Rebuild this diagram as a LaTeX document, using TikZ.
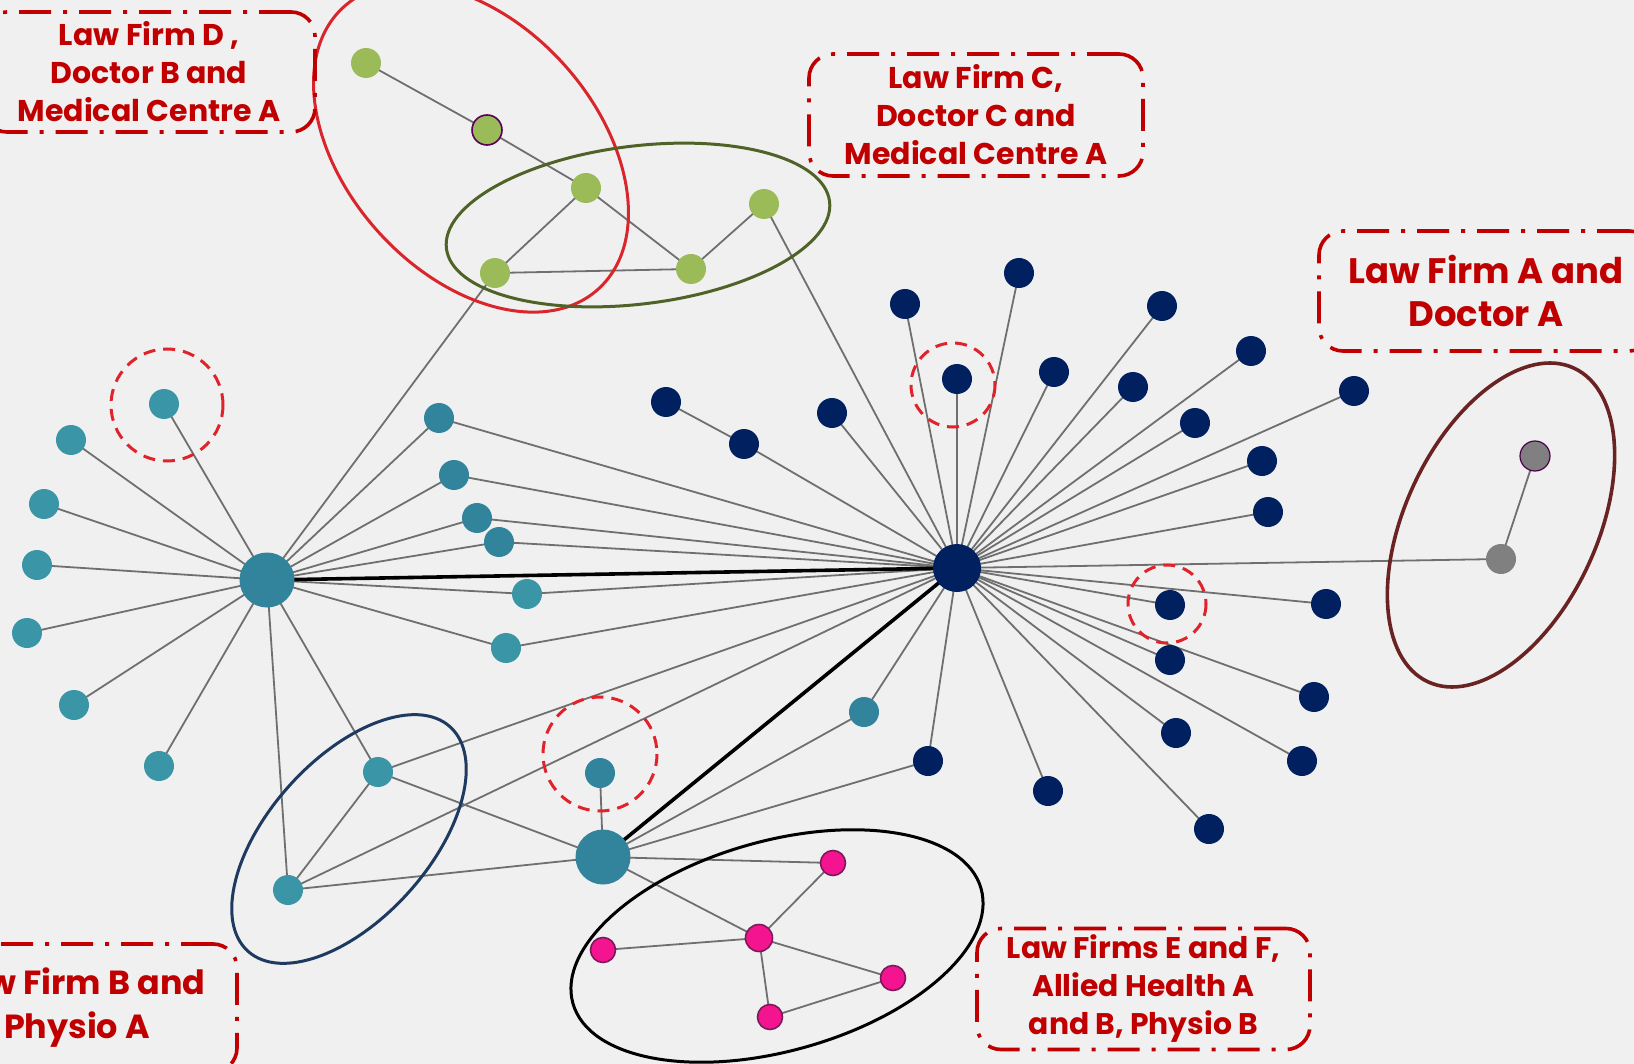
\documentclass[tikz,border=0pt]{standalone}
\usepackage{fontspec}
\newfontfamily\labfont{Poppins}
\definecolor{bg}{HTML}{F0F0F0}
\definecolor{tealA}{HTML}{31849B}
\definecolor{tealB}{HTML}{3A95A7}
\definecolor{navy}{HTML}{002060}
\definecolor{leaf}{HTML}{9BBB59}
\definecolor{rose}{HTML}{F5148F}
\definecolor{roseline}{HTML}{7A1A5A}
\definecolor{greynode}{HTML}{808080}
\definecolor{edgecol}{HTML}{6F6F6F}
\definecolor{labred}{HTML}{C00000}
\definecolor{ringred}{HTML}{E0222B}
\definecolor{ellred}{HTML}{D9252B}
\definecolor{ellgreen}{HTML}{4F6228}
\definecolor{ellmaroon}{HTML}{6A2222}
\definecolor{ellblue}{HTML}{1F3A60}
\pgfdeclarelayer{edges}
\pgfsetlayers{edges,main}
\tikzset{
  dot/.style={circle, inner sep=0pt, minimum size=15pt},
  tsat/.style={dot, fill=tealB},
  tdark/.style={dot, fill=tealA},
  thub/.style={circle, inner sep=0pt, minimum size=27.5pt, fill=tealA},
  nsat/.style={dot, fill=navy},
  nhub/.style={circle, inner sep=0pt, minimum size=24pt, fill=navy},
  gsat/.style={dot, fill=leaf},
  gysat/.style={dot, fill=greynode},
  psat/.style={circle, inner sep=0pt, minimum size=12.5pt, fill=rose, draw=roseline, line width=0.8pt},
  link/.style={draw=edgecol, line width=0.9pt},
  strong/.style={draw=black, line width=1.8pt},
  ring/.style={draw=ringred, line width=1.5pt, dash pattern=on 6pt off 4pt},
  labelbox/.style={draw=labred, line width=1.8pt, rounded corners=12pt,
    dash pattern=on 16pt off 6pt on 2pt off 6pt, text=labred,
    align=center, inner sep=0pt},
  labsize/.style 2 args={font=\labfont\bfseries\fontsize{#1}{#2}\selectfont},
}
\begin{document}
\begin{tikzpicture}[x=0.5pt, y=-0.5pt]
\useasboundingbox (0,0) rectangle (1634,1064);
\clip (0,0) rectangle (1634,1064);
\begin{pgfonlayer}{edges}
\fill[bg] (0,0) rectangle (1634,1064);
\end{pgfonlayer}

% teal nodes
\node[thub] (TL) at (267,580) {};
\node[tsat] (t1) at (164,404) {};
\node[tsat] (t2) at (71,440) {};
\node[tsat] (t3) at (44,504) {};
\node[tsat] (t4) at (37,565) {};
\node[tsat] (t5) at (27,633) {};
\node[tsat] (t6) at (74,705) {};
\node[tsat] (t7) at (159,766) {};
\node[tdark] (t8) at (439,418) {};
\node[tdark] (t9) at (454,475) {};
\node[tdark] (t10) at (477,518) {};
\node[tdark] (t11) at (499,542) {};
\node[tsat] (t12) at (527,594) {};
\node[tsat] (t13) at (506,648) {};
\node[tsat] (TM) at (378,772) {};
\node[tsat] (TB) at (288,890) {};
\node[thub] (TH) at (603,857) {};
\node[tdark] (tc) at (600,773) {};
\node[tdark] (tr) at (864,712) {};

% green nodes
\node[gsat] (g1) at (366,63) {};
\node[gsat, draw=violet!70!black, line width=0.8pt] (g2) at (487,130) {};
\node[gsat] (g3) at (586,188) {};
\node[gsat] (g4) at (764,204) {};
\node[gsat] (g5) at (495,273) {};
\node[gsat] (g6) at (691,269) {};

% navy nodes
\node[nhub] (NH) at (957,568) {};
\node[nsat] (na) at (666,402) {};
\node[nsat] (nb) at (744,444) {};
\node[nsat] (nc) at (832,413) {};
\node[nsat] (nd) at (905,304) {};
\node[nsat] (ne) at (957,379) {};
\node[nsat] (nf) at (1019,273) {};
\node[nsat] (ng) at (1054,372) {};
\node[nsat] (nh) at (1162,306) {};
\node[nsat] (ni) at (1133,387) {};
\node[nsat] (nj) at (1251,351) {};
\node[nsat] (nk) at (1195,423) {};
\node[nsat] (nl) at (1262,461) {};
\node[nsat] (nm) at (1268,512) {};
\node[nsat] (nn) at (1354,391) {};
\node[nsat] (no) at (1170,605) {};
\node[nsat] (np) at (1326,604) {};
\node[nsat] (nq) at (1170,660) {};
\node[nsat] (nr) at (1314,697) {};
\node[nsat] (ns) at (1176,733) {};
\node[nsat] (nt) at (1302,761) {};
\node[nsat] (nu) at (1048,791) {};
\node[nsat] (nv) at (1209,829) {};
\node[nsat] (nw) at (928,761) {};

% grey nodes
\node[gysat, draw=violet!60!black, line width=0.6pt] (gr1) at (1535,456) {};
\node[gysat] (gr2) at (1501,559) {};

% pink nodes
\node[psat] (p1) at (833,863) {};
\node[psat, minimum size=13.5pt] (pc) at (759,938) {};
\node[psat] (pl) at (603,950) {};
\node[psat] (pr) at (893,978) {};
\node[psat] (pb) at (770,1017) {};

% edges
\begin{pgfonlayer}{edges}
\foreach \s in {t1,t2,t3,t4,t5,t6,t7,t8,t9,t10,t11,t12,t13,TM,TB,g5}
  \draw[link] (TL.center) -- (\s.center);
\foreach \s in {t8,t9,t10,t11,t12,t13,TM,TB,tr,nb,nc,nd,ne,nf,ng,nh,ni,nj,nk,nl,nm,nn,no,np,nq,nr,ns,nt,nu,nv,nw,gr2,g4}
  \draw[link] (NH.center) -- (\s.center);
\draw[strong] (TL.center) -- (NH.center);
\draw[strong] (TH.center) -- (NH.center);
\foreach \s in {TM,TB,tc,tr,nw,p1,pc}
  \draw[link] (TH.center) -- (\s.center);
\draw[link] (TM.center) -- (TB.center);
\draw[link] (g1.center) -- (g2.center);
\draw[link] (g2.center) -- (g3.center);
\draw[link] (g3.center) -- (g5.center);
\draw[link] (g3.center) -- (g6.center);
\draw[link] (g5.center) -- (g6.center);
\draw[link] (g6.center) -- (g4.center);
\draw[link] (na.center) -- (nb.center);
\draw[link] (gr1.center) -- (gr2.center);
\draw[link] (pc.center) -- (p1.center);
\draw[link] (pc.center) -- (pl.center);
\draw[link] (pc.center) -- (pr.center);
\draw[link] (pc.center) -- (pb.center);
\draw[link] (pb.center) -- (pr.center);
\end{pgfonlayer}

% group ellipses
\draw[ellred, line width=1.5pt, rotate around={-48:(471,148)}] (471,148) ellipse [x radius=190, y radius=125];
\draw[ellgreen, line width=1.5pt, rotate around={7:(638,225)}] (638,225) ellipse [x radius=193, y radius=79];
\draw[ellmaroon, line width=1.8pt, rotate around={65:(1501,525)}] (1501,525) ellipse [x radius=173, y radius=96];
\draw[ellblue, line width=1.5pt, rotate around={48:(349,839)}] (349,839) ellipse [x radius=151, y radius=80];
\draw[black, line width=1.5pt, rotate around={15.7:(777,946)}] (777,946) ellipse [x radius=212, y radius=105];

% dashed rings
\draw[ring] (167,405) circle [radius=56];
\draw[ring] (953,385) circle [radius=42];
\draw[ring] (1167,604) circle [radius=39];
\draw[ring] (600,754) circle [radius=57];

% labels
\node[labelbox, labsize={15}{19}, minimum width=166pt, minimum height=60pt] (labD) at (149,72)
  {Law Firm D ,\\Doctor B and\\Medical Centre A};
\node[labelbox, labsize={15}{19}, minimum width=167pt, minimum height=61pt] (labC) at (976,115)
  {Law Firm C,\\Doctor C and\\Medical Centre A};
\node[labelbox, labsize={17.7}{21.5}, minimum width=167pt, minimum height=60pt] (labA) at (1486,291)
  {Law Firm A and\\Doctor A};
\node[labelbox, labsize={14.9}{19}, minimum width=166.5pt, minimum height=60.5pt] (labE) at (1143.5,989)
  {Law Firms E and F,\\Allied Health A\\and B, Physio B};
\node[labelbox, labsize={16.7}{22}, minimum width=160pt, minimum height=64pt] (labB) at (77,1008)
  {Law Firm B and\\Physio A};
\end{tikzpicture}
\end{document}
